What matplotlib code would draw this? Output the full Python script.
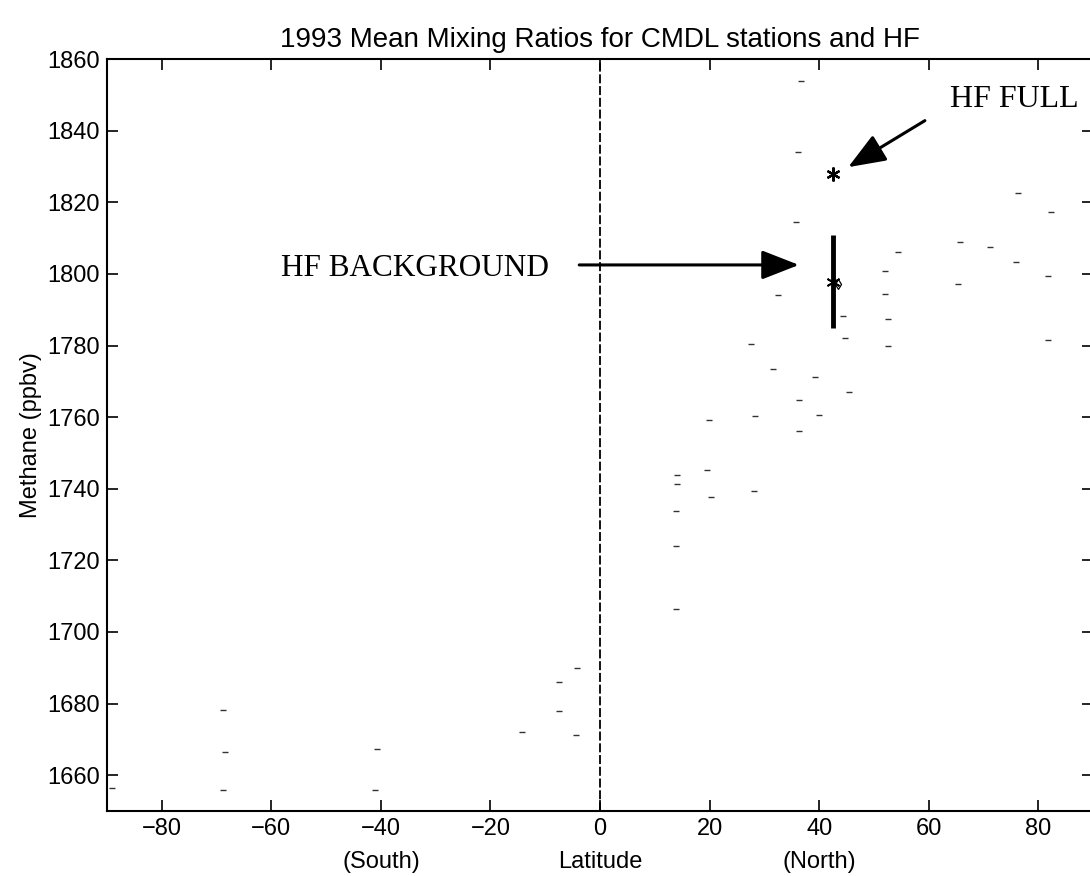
import numpy as np
import matplotlib
matplotlib.use("Agg")
import matplotlib.pyplot as plt

plt.rcParams['font.family'] = ['Liberation Sans', 'DejaVu Sans']

# CMDL station means (latitude, CH4 ppbv)
station_lat = [-89.1, -68.8, -68.5, -68.8, -40.7, -41.0, -14.3, -7.5, -7.5, -4.2, -4.3,
               13.8, 13.8, 13.8, 14.1, 14.1, 19.6, 20.2, 19.9, 28.1, 28.3, 27.6, 31.6,
               32.5, 36.4, 36.4, 35.8, 36.1, 36.7, 39.2, 40.0, 45.5, 44.4, 44.7, 52.0,
               52.0, 52.6, 52.6, 54.4, 65.4, 65.7, 71.2, 76.0, 76.3, 81.8, 81.8, 82.4]
station_ch4 = [1656.3, 1678.2, 1666.5, 1655.8, 1667.3, 1656.0, 1672.1, 1686.0, 1677.8,
               1689.9, 1671.2, 1706.5, 1723.9, 1733.7, 1741.4, 1743.7, 1745.3, 1737.6,
               1759.3, 1739.3, 1760.2, 1780.5, 1773.5, 1794.0, 1756.0, 1764.8, 1814.4,
               1834.0, 1854.0, 1771.2, 1760.7, 1766.9, 1788.1, 1782.0, 1800.7, 1794.4,
               1787.4, 1780.0, 1806.0, 1797.2, 1808.8, 1807.4, 1803.3, 1822.5, 1799.5,
               1781.4, 1817.2]

# Harvard Forest
hf_lat = 42.5
hf_full = 1827.9
hf_bg = 1797.8
hf_bg_low, hf_bg_high = 1784.8, 1810.9

xticks = [-80, -60, -40, -20, 0, 20, 40, 60, 80]
yticks = list(range(1660, 1861, 20))

fig = plt.figure(figsize=(10.9, 8.76), dpi=100)
ax = fig.add_axes([0.0982, 0.0742, 0.9046, 0.8584])

ax.plot(station_lat, station_ch4, ls='none', marker='_', ms=5, mew=1.0, color='0.2')

# zero latitude line
ax.axvline(0, color='black', lw=1.3, ls=(0, (5, 1.5)))

# HF background with range bar, HF full
ax.vlines(hf_lat, hf_bg_low, hf_bg_high, color='black', lw=3.5)
ax.plot([hf_lat], [hf_bg], ls='none', marker=(6, 2, 0), ms=10, mew=1.3, color='black')
ax.plot([hf_lat + 1.0], [hf_bg - 0.5], ls='none', marker='d', ms=5, mfc='none',
        mew=0.9, color='black')
ax.plot([hf_lat], [hf_full], ls='none', marker=(6, 2, 0), ms=10, mew=1.6, color='black')

arrow = dict(arrowstyle='-|>,head_length=1.15,head_width=0.45', color='black', lw=2.2,
             mutation_scale=20, shrinkA=0, shrinkB=0)
ax.annotate('', xy=(45.3, 1829.8), xytext=(59.3, 1842.8), arrowprops=arrow)
ax.annotate('', xy=(36.3, 1802.5), xytext=(-3.8, 1802.5), arrowprops=arrow)
ax.text(75.6, 1848.8, 'HF FULL', family='Liberation Serif', fontsize=23,
        ha='center', va='center')
ax.text(-33.7, 1801.6, 'HF BACKGROUND', family='Liberation Serif', fontsize=22.5,
        ha='center', va='center')

ax.set_xlim(-90, 90)
ax.set_ylim(1650, 1860)
ax.set_xticks(xticks)
ax.set_yticks(yticks)
ax.set_xticklabels(['\u2212%d' % -t if t < 0 else str(t) for t in xticks])
ax.tick_params(direction='in', length=8, width=1.2, top=True, right=True,
               labelsize=17, pad=5)
for s in ax.spines.values():
    s.set_linewidth(1.5)

ax.set_title('1993 Mean Mixing Ratios for CMDL stations and HF', fontsize=20, pad=9)
ax.set_ylabel('Methane (ppbv)', fontsize=17, labelpad=4)

tr = ax.get_xaxis_transform()
for xpos, lab in [(-40, '(South)'), (0, 'Latitude'), (40, '(North)')]:
    ax.text(xpos, -0.068, lab, transform=tr, fontsize=17, ha='center', va='center')

fig.savefig('out.png', dpi=100)
